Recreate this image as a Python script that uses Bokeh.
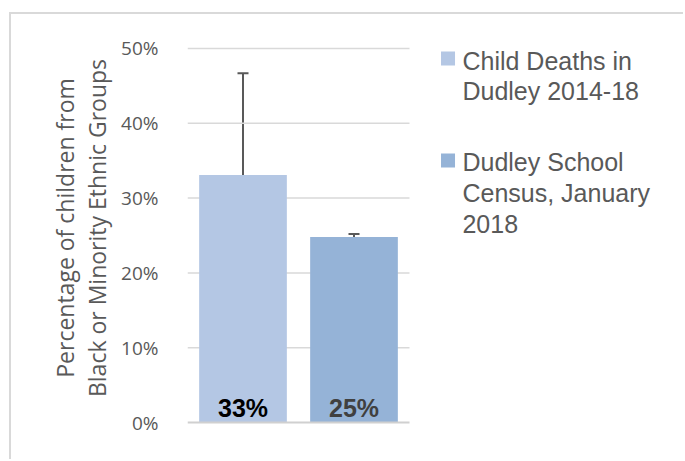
from bokeh.plotting import figure
from bokeh.models import (Range1d, FixedTicker, NumeralTickFormatter, ColumnDataSource,
                          Whisker, TeeHead)
from bokeh.core.properties import value
from bokeh.embed import file_html
from bokeh.resources import INLINE
import numpy as np

# ---- data ----
series = ["Child Deaths in\nDudley 2014-18", "Dudley School\nCensus, January\n2018"]
values = [0.331, 0.248]
upper = [0.467, 0.252]
lower = [0.226, 0.244]
bar_labels = ["33%", "25%"]
y_ticks = [0.0, 0.1, 0.2, 0.3, 0.4, 0.5]

bar_colors = ["#B4C7E4", "#95B3D7"]
label_colors = ["#000000", "#404040"]

W, H = 674, 447
p = figure(width=W, height=H, output_backend="svg", toolbar_location=None,
           x_axis_type=None, x_range=Range1d(0, 498 / 111.0),
           y_range=Range1d(-0.02, 0.5401),
           min_border_left=176, min_border_right=0, min_border_top=4, min_border_bottom=24)
p.outline_line_color = None
p.ygrid.visible = False
p.background_fill_color = "white"
p.border_fill_color = "white"
# chart-area border (top and left edges visible in the window)
p.styles = {"margin-left": "9px", "margin-top": "12px",
            "border-left": "2px solid #D9D9D9", "border-top": "2px solid #D9D9D9"}

n = len(values)
xs = np.arange(n) + 0.5

# gridlines across the category area only
grid_x0 = [0] * len(y_ticks)
grid_x1 = [n] * len(y_ticks)
p.segment(x0=grid_x0[1:], y0=y_ticks[1:], x1=grid_x1[1:], y1=y_ticks[1:],
          line_color="#D9D9D9", line_width=1.5)

src = ColumnDataSource(dict(x=xs, top=values, color=bar_colors, upper=upper, lower=lower,
                            label=bar_labels, lcolor=label_colors))
p.vbar(x="x", top="top", bottom=0, width=0.79, fill_color="color", line_color=None, source=src)
p.segment(x0=[0], y0=[0], x1=[n], y1=[0], line_color="#D0D0D0", line_width=2)

p.add_layout(Whisker(base="x", upper="upper", lower="lower", source=src,
                     line_color="#595959", line_width=2,
                     upper_head=TeeHead(size=11, line_color="#595959", line_width=2),
                     lower_head=TeeHead(size=11, line_color="#595959", line_width=2)))

p.text(x="x", y=0.02, text="label", text_color="lcolor", source=src,
       text_font=value("Liberation Sans"), text_font_style="bold", text_font_size="25px",
       text_align="center", text_baseline="alphabetic")

# legend (manual)
leg_sq_x = [2.347, 2.347]
leg_sq_y = [0.4866, 0.3503]
leg_tx_x = [2.477, 2.477]
leg_tx_y = [0.5024, 0.3666]
p.scatter(x=leg_sq_x, y=leg_sq_y, marker="square", size=14, fill_color=bar_colors, line_color=None)
p.text(x=leg_tx_x, y=leg_tx_y, text=series, text_font=value("Liberation Sans"),
       text_font_size="25px", text_color="#595959", text_baseline="top", text_align="left",
       text_line_height=1.1)

# y axis
ax = p.yaxis[0]
ax.ticker = FixedTicker(ticks=y_ticks)
ax.formatter = NumeralTickFormatter(format="0%")
ax.axis_line_color = None
ax.major_tick_line_color = None
ax.minor_tick_line_color = None
ax.major_label_standoff = 23
ax.major_label_text_font = "Open Sans"
ax.major_label_text_font_size = "19px"
ax.major_label_text_color = "#595959"
ax.axis_label = "Percentage of children from\nBlack or Minority Ethnic Groups"
ax.axis_label_text_font = "Open Sans"
ax.axis_label_text_font_size = "23px"
ax.axis_label_text_font_style = "normal"
ax.axis_label_text_color = "#595959"
ax.axis_label_text_line_height = 1.0
ax.axis_label_standoff = 5

open("out.html", "w").write(file_html(p, INLINE))
